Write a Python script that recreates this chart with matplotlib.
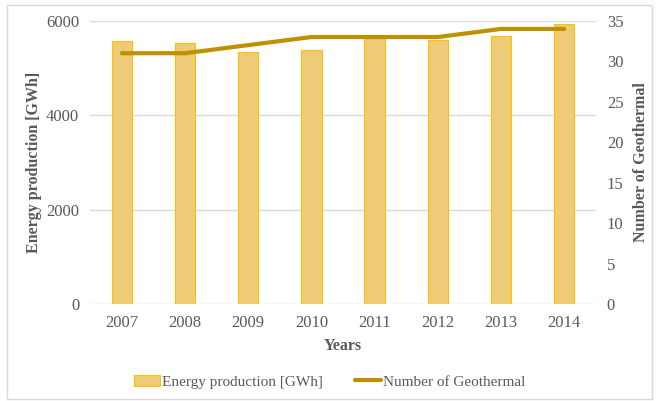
import matplotlib.pyplot as plt
from matplotlib.patches import Rectangle
import numpy as np

years = ['2007', '2008', '2009', '2010', '2011', '2012', '2013', '2014']
energy = [5580, 5530, 5350, 5390, 5640, 5600, 5670, 5930]
plants = [31, 31, 32, 33, 33, 33, 34, 34]

plt.rcParams['font.family'] = ['Liberation Serif', 'DejaVu Serif']

fig = plt.figure(figsize=(6.59, 4.01), dpi=100)
fig.patches.append(Rectangle((0.011, 0.005), 0.978, 0.983, transform=fig.transFigure,
                             fill=False, edgecolor='#D9D9D9', linewidth=1))
ax = fig.add_axes([0.137, 0.242, 0.767, 0.706])
x = np.arange(len(years))

ax.bar(x, energy, width=0.32, color='#EECB76', edgecolor='#FFC000', linewidth=0.8,
       label='Energy production [GWh]', zorder=2)
ax.set_ylim(0, 6000)
ax.set_yticks([0, 2000, 4000, 6000])
ax.set_xlim(-0.5, len(years) - 0.5)
ax.set_xticks(x)
ax.set_xticklabels(years)
ax.grid(axis='y', color='#D9D9D9', linewidth=1, zorder=0)
for s in ax.spines.values():
    s.set_visible(False)
ax.tick_params(length=0, labelsize=12, colors='#595959', pad=8)
ax.set_ylabel('Energy production [GWh]', fontsize=11.5, fontweight='bold', color='#595959', labelpad=3)
ax.set_xlabel('Years', fontsize=11.5, fontweight='bold', color='#595959', labelpad=5)

ax2 = ax.twinx()
ax2.plot(x, plants, color='#BF9000', linewidth=3, solid_capstyle='round',
         label='Number of Geothermal', zorder=3)
ax2.set_ylim(0, 35)
ax2.set_yticks(range(0, 36, 5))
for s in ax2.spines.values():
    s.set_visible(False)
ax2.tick_params(length=0, labelsize=12, colors='#595959', pad=8)
ax2.set_ylabel('Number of Geothermal', fontsize=11.5, fontweight='bold', color='#595959', labelpad=7)

h1, l1 = ax.get_legend_handles_labels()
h2, l2 = ax2.get_legend_handles_labels()
fig.legend(h1 + h2, l1 + l2, loc='center', bbox_to_anchor=(0.5, 0.048), ncol=2,
           frameon=False, fontsize=11, labelcolor='#595959', handlelength=1.7,
           handletextpad=0.15, columnspacing=2.1)

fig.savefig('out.png', dpi=100)
